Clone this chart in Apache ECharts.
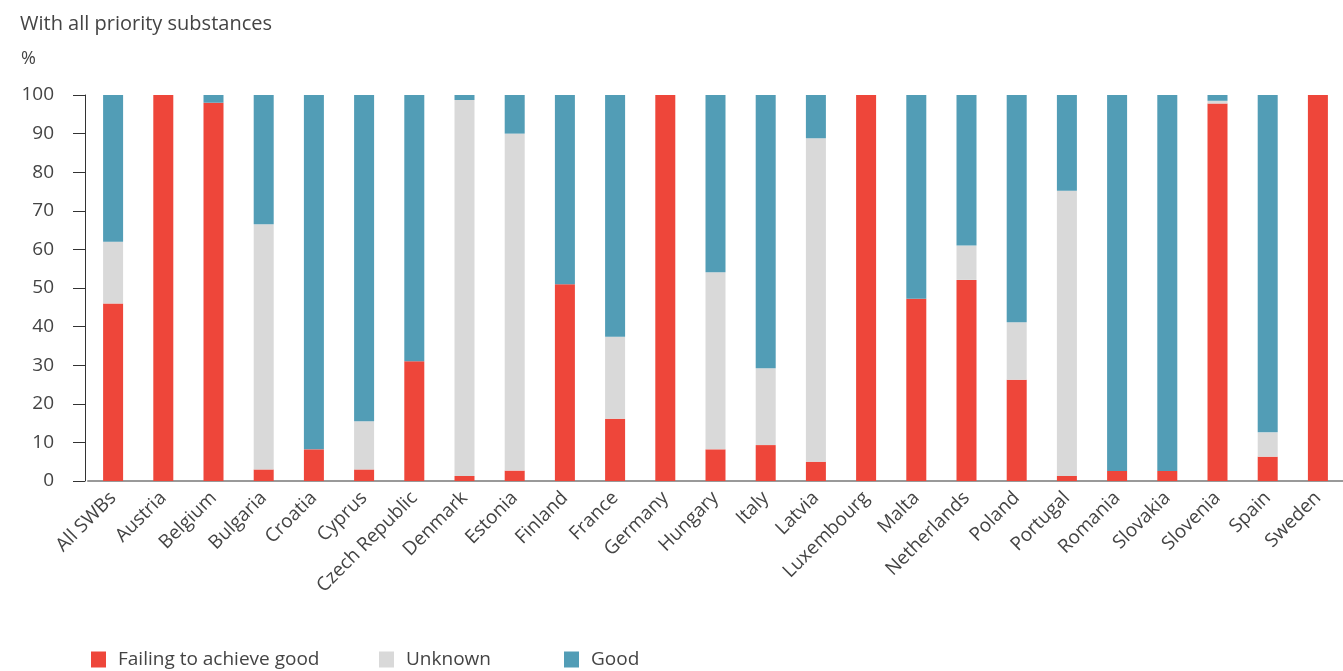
<!DOCTYPE html>
<html><head><meta charset="utf-8">
<script src="https://cdn.jsdelivr.net/npm/echarts@6/dist/echarts.min.js"></script>
<style>html,body{margin:0;padding:0;background:#fff}#c{width:1343px;height:671px}</style>
</head><body><div id="c"></div>
<script>
const categories = ["All SWBs","Austria","Belgium","Bulgaria","Croatia","Cyprus","Czech Republic","Denmark","Estonia","Finland","France","Germany","Hungary","Italy","Latvia","Luxembourg","Malta","Netherlands","Poland","Portugal","Romania","Slovakia","Slovenia","Spain","Sweden"];
const failing = [46,100,98,3,8.2,3,31,1.3,2.7,51,16.1,100,8.2,9.3,5,100,47.2,52.1,26.2,1.3,2.6,2.6,97.8,6.3,100];
const unknown = [16,0,0,63.5,0,12.5,0,97.4,87.3,0,21.3,0,45.9,19.9,83.8,0,0,8.9,14.9,73.9,0,0,0.7,6.3,0];
const good = [38,0,2,33.5,91.8,84.5,69,1.3,10,49,62.6,0,45.9,70.8,11.2,0,52.8,39,58.9,24.8,97.4,97.4,1.5,87.4,0];
const yTicks = [0,10,20,30,40,50,60,70,80,90,100];

const font = "'Open Sans', sans-serif";
const txt = '#444';
const chart = echarts.init(document.getElementById('c'));
function leg(name, left){
  return {data:[name], left:left, top:645, itemWidth:15, itemHeight:16, icon:'rect',
    textStyle:{fontFamily:font, fontSize:19, color:txt, padding:[0,0,0,7]}, selectedMode:false};
}
chart.setOption({
  animation:false,
  title:[
    {text:'With all priority substances', left:15, top:9, textStyle:{fontFamily:font, fontSize:20, fontWeight:'normal', color:txt}},
    {text:'%', left:16, top:45, textStyle:{fontFamily:font, fontSize:18, fontWeight:'normal', color:txt}}
  ],
  legend:[leg('Failing to achieve good',86), leg('Unknown',374), leg('Good',559)],
  grid:{left:88, right:0, top:95, bottom:190},
  xAxis:{type:'category', data:categories,
    axisLine:{lineStyle:{color:'#999', width:2}},
    axisTick:{show:false},
    axisLabel:{rotate:45, interval:0, fontFamily:font, fontSize:19, color:txt, margin:14}},
  yAxis:{type:'value', min:0, max:100, interval:10, offset:3,
    axisLine:{show:true, lineStyle:{color:'#333', width:1}},
    axisTick:{show:true, length:12, lineStyle:{color:'#333'}},
    splitLine:{show:false},
    axisLabel:{fontFamily:font, fontSize:19, color:txt, margin:31,
      formatter:v=>yTicks.includes(v)?String(v):''}},
  series:[
    {name:'Failing to achieve good', type:'bar', stack:'s', data:failing, barWidth:20, itemStyle:{color:'#ee463a'}},
    {name:'Unknown', type:'bar', stack:'s', data:unknown, barWidth:20, itemStyle:{color:'#d9d9d9'}},
    {name:'Good', type:'bar', stack:'s', data:good, barWidth:20, itemStyle:{color:'#529db6'}}
  ]
});
</script></body></html>
